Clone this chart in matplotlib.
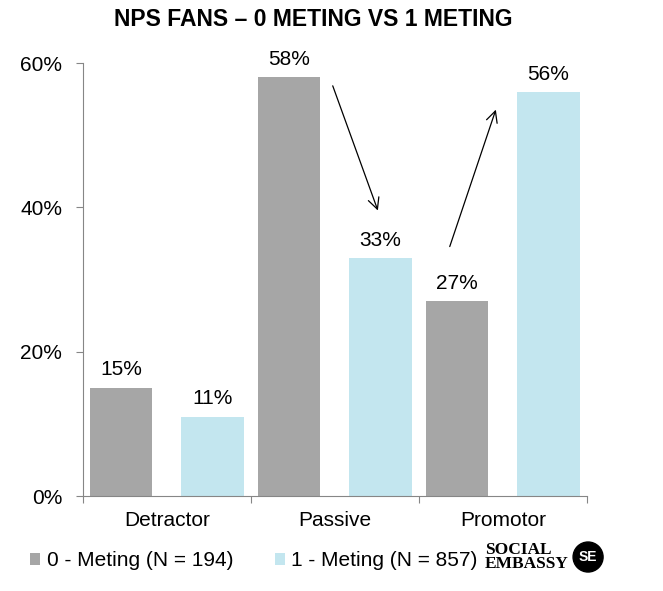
import matplotlib.pyplot as plt
import numpy as np
from matplotlib.patches import Ellipse

plt.rcParams['font.family'] = ['Liberation Sans', 'DejaVu Sans']

categories = ["Detractor", "Passive", "Promotor"]
meting0 = [15, 58, 27]
meting1 = [11, 33, 56]
legend_labels = ["0 - Meting (N = 194)", "1 - Meting (N = 857)"]
yticks = [0, 20, 40, 60]

gray = "#a6a6a6"
blue = "#c3e6ef"

fig = plt.figure(figsize=(6.63, 5.91), dpi=100)
ax = fig.add_axes([0.125, 0.1607, 0.76, 0.7327])

x = np.arange(len(categories))
w = 0.37
off = 0.272
b0 = ax.bar(x - off, meting0, w, color=gray)
b1 = ax.bar(x + off, meting1, w, color=blue)

for bars, vals in [(b0, meting0), (b1, meting1)]:
    for b, v in zip(bars, vals):
        ax.annotate(f"{v}%", (b.get_x() + b.get_width() / 2, v),
                    xytext=(0, 6), textcoords="offset points",
                    ha="center", va="bottom", fontsize=15)

ax.set_xlim(-0.5, 2.5)
ax.set_ylim(0, 60)
ax.set_yticks(yticks)
ax.set_yticklabels([f"{t}%" for t in yticks], fontsize=15)
ax.set_xticks([-0.5, 0.5, 1.5, 2.5])
ax.set_xticklabels([])
ax.set_xticks(x, minor=True)
ax.set_xticklabels(categories, minor=True, fontsize=15)
ax.tick_params(axis="x", which="major", length=5, color="#868686")
ax.tick_params(axis="x", which="minor", length=0, pad=11)
ax.tick_params(axis="y", length=5, color="#868686", pad=10)
for s in ["top", "right"]:
    ax.spines[s].set_visible(False)
for s in ["left", "bottom"]:
    ax.spines[s].set_color("#868686")

# arrows showing the shift
ax.annotate("", xy=(1.262, 39.2), xytext=(0.982, 57.2),
            arrowprops=dict(arrowstyle="->", color="black", lw=0.9,
                            mutation_scale=20))
ax.annotate("", xy=(1.964, 53.9), xytext=(1.679, 34.2),
            arrowprops=dict(arrowstyle="->", color="black", lw=0.9,
                            mutation_scale=20))

fig.text(0.472, 0.967, "NPS FANS \u2013 0 METING VS 1 METING", ha="center", va="center",
         fontsize=16.5, fontweight="bold")

leg = fig.legend([b0, b1], legend_labels, loc="center left",
                 bbox_to_anchor=(0.045, 0.0516), ncol=2, frameon=False,
                 fontsize=15, handlelength=0.5, handleheight=0.5,
                 handletextpad=0.3, columnspacing=2.0,
                 borderpad=0, borderaxespad=0)

# logo
fig.text(0.731, 0.0575, "SOCIAL\nEMBASSY", ha="left", va="center", fontsize=12.5,
         fontweight="bold", family=["Liberation Serif", "DejaVu Serif"],
         linespacing=0.8)
fig.add_artist(Ellipse((0.887, 0.0575), 30 / 663, 30 / 591,
                       transform=fig.transFigure, color="black"))
fig.text(0.887, 0.0575, "SE", ha="center", va="center", fontsize=10,
         fontweight="bold", color="white")

fig.savefig("out.png", dpi=100)
